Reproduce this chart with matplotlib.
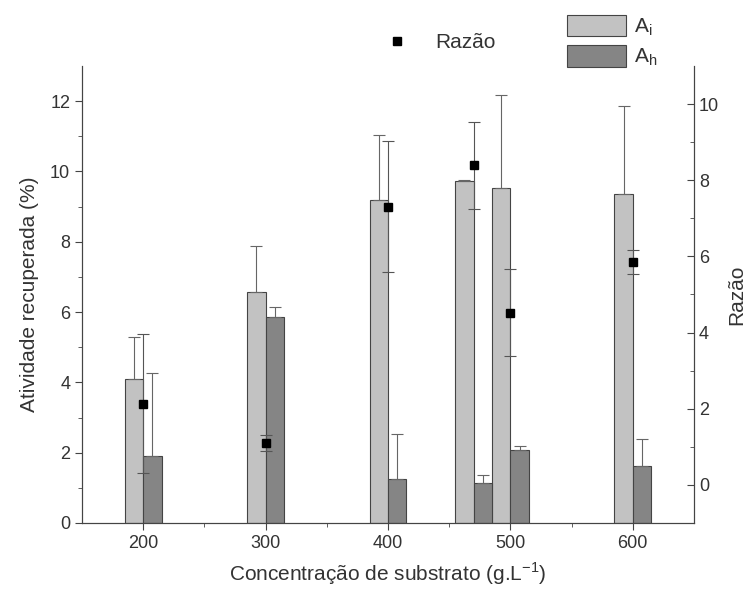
import matplotlib
matplotlib.use("Agg")
import matplotlib.pyplot as plt
import numpy as np
from matplotlib.patches import Patch
from matplotlib.lines import Line2D

plt.rcParams['font.family'] = ['Liberation Sans', 'DejaVu Sans']

conc = [200, 300, 400, 470, 500, 600]
ai = [4.09, 6.58, 9.20, 9.72, 9.53, 9.37]
ai_err = [1.20, 1.30, 1.84, 0.03, 2.64, 2.48]
ah = [1.91, 5.85, 1.26, 1.15, 2.07, 1.61]
ah_err = [2.35, 0.28, 1.27, 0.22, 0.11, 0.77]
razao = [2.13, 1.11, 7.31, 8.39, 4.52, 5.85]
razao_err = [1.82, 0.21, 1.71, 1.14, 1.14, 0.31]
xticks = [200, 300, 400, 500, 600]

txt = '#333333'
fig = plt.figure(figsize=(7.5, 5.96), dpi=100)
ax = fig.add_axes([0.1093, 0.1225, 0.816, 0.7668])
x = np.array(conc, dtype=float)
w = 15
ax.bar(x - w/2, ai, width=w, color='#c2c2c2', edgecolor='#444444', linewidth=0.8,
       yerr=[np.zeros(len(ai)), ai_err], error_kw=dict(ecolor='#666666', elinewidth=0.8, capsize=4, capthick=0.8), zorder=2)
ax.bar(x + w/2, ah, width=w, color='#858585', edgecolor='#444444', linewidth=0.8,
       yerr=[np.zeros(len(ah)), ah_err], error_kw=dict(ecolor='#666666', elinewidth=0.8, capsize=4, capthick=0.8), zorder=2)
ax.set_xlim(150, 650)
ax.set_ylim(0, 13)
ax.set_xticks(xticks)
ax.set_xticks([250, 350, 450, 550], minor=True)
ax.set_yticks(range(0, 13, 2))
ax.set_yticks(range(1, 13, 2), minor=True)
ax.tick_params(axis='both', which='major', length=5, labelsize=13, colors='#444444', labelcolor=txt)
ax.tick_params(axis='both', which='minor', length=3, colors='#444444')
ax.spines['top'].set_visible(False)
for s in ['left', 'bottom', 'right']:
    ax.spines[s].set_color('#444444')
ax.set_xlabel('Concentração de substrato (g.L$^{\\mathregular{-1}}$)', fontsize=15, color=txt, labelpad=6)
ax.set_ylabel('Atividade recuperada (%)', fontsize=15, color=txt, labelpad=8)

ax2 = ax.twinx()
ax2.errorbar(x, razao, yerr=razao_err, fmt='s', color='black', markersize=6,
             ecolor='#555555', elinewidth=0.8, capsize=4, capthick=0.8, zorder=3)
ax2.set_ylim(-1, 11)
ax2.set_yticks(range(0, 11, 2))
ax2.set_yticks(range(1, 11, 2), minor=True)
ax2.tick_params(axis='y', which='major', direction='in', length=5, labelsize=13, colors='#444444', labelcolor=txt)
ax2.tick_params(axis='y', which='minor', direction='in', length=3, colors='#444444')
ax2.spines['top'].set_visible(False)
for s in ['left', 'bottom', 'right']:
    ax2.spines[s].set_color('#444444')
ax2.set_ylabel('Razão', fontsize=15, color=txt, labelpad=6)

h1 = [Line2D([], [], marker='s', linestyle='none', color='black', markersize=6)]
fig.legend(h1, ['Razão'], loc='center left', bbox_to_anchor=(0.477, 0.928), frameon=False,
           fontsize=15, handletextpad=0.8, labelcolor=txt)
h2 = [Patch(facecolor='#c2c2c2', edgecolor='#444444', linewidth=0.8),
      Patch(facecolor='#858585', edgecolor='#444444', linewidth=0.8)]
fig.legend(h2, ['A$_\\mathregular{i}$', 'A$_\\mathregular{h}$'], loc='upper left',
           bbox_to_anchor=(0.737, 1.0), frameon=False, fontsize=15, handlelength=2.8,
           handleheight=1.2, labelspacing=0.35, handletextpad=0.4, borderpad=0.2, labelcolor=txt)

fig.savefig('out.png', dpi=100)
